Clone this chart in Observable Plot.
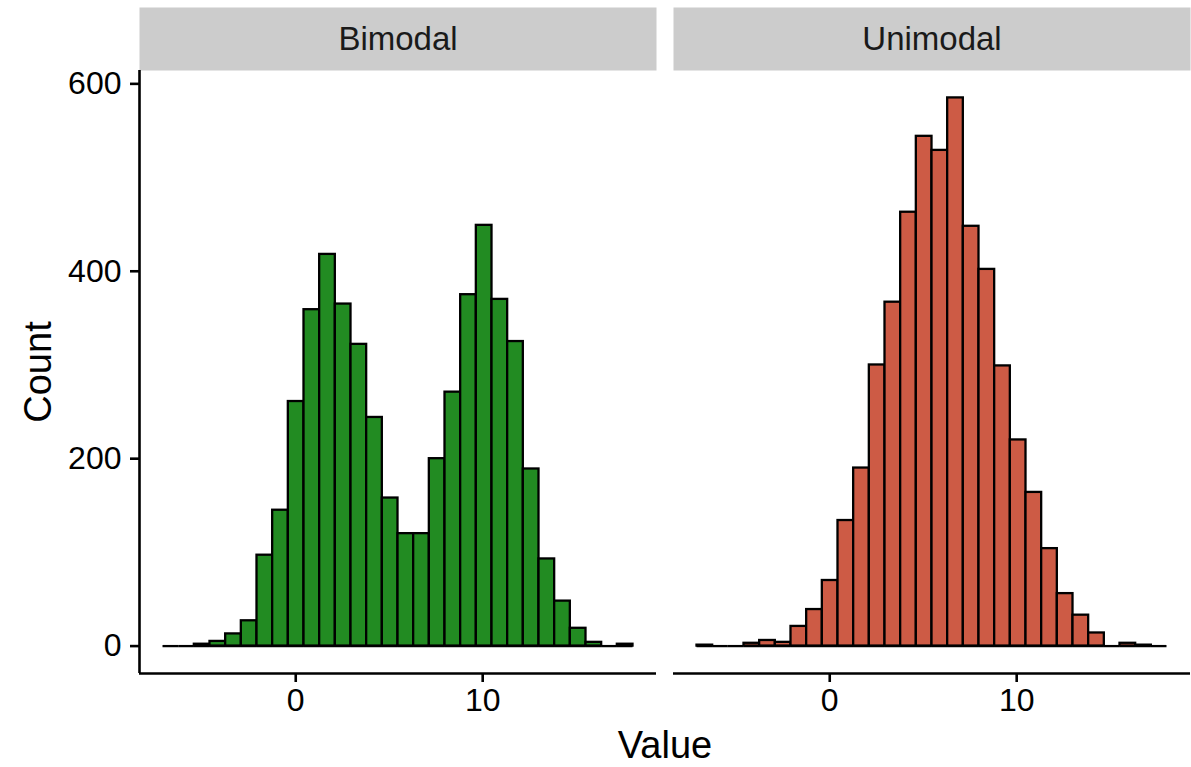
<!DOCTYPE html>
<html>
<head>
<meta charset="utf-8">
<script src="https://cdn.jsdelivr.net/npm/d3@7"></script>
<script src="https://cdn.jsdelivr.net/npm/@observablehq/plot@0.6"></script>
<style>
  html, body { margin: 0; padding: 0; background: #ffffff; }
  #wrap { position: relative; width: 1191px; height: 767px; font-family: "Liberation Sans", Arial, Helvetica, sans-serif; color: #000; }
  #wrap svg { position: absolute; left: 0; top: 0; }
  .ttl { position: absolute; font-size: 38px; line-height: 1; white-space: nowrap; }
  #ytitle { left: 38px; top: 372px; transform: translate(-50%, -50%) rotate(-90deg); }
  #xtitle { left: 665px; top: 745px; transform: translate(-50%, -50%); }
</style>
</head>
<body>
<div id="wrap">
  <div class="ttl" id="ytitle">Count</div>
  <div class="ttl" id="xtitle">Value</div>
</div>
<script>
// ---- data ----
const panels = ["Bimodal", "Unimodal"];
const panelColors = ["#228B22", "#CD5B45"];
const binEdges = [-7.1, -6.262, -5.424, -4.586, -3.748, -2.91, -2.072, -1.234, -0.396, 0.442,
  1.28, 2.118, 2.956, 3.794, 4.632, 5.47, 6.308, 7.146, 7.984, 8.822,
  9.66, 10.498, 11.336, 12.174, 13.012, 13.85, 14.688, 15.526, 16.364, 17.202, 18.04];
const bimodalCounts = [0, 0, 2, 5, 13, 27, 97, 145, 261, 359,
  418, 365, 322, 244, 158, 120, 120, 200, 271, 375,
  449, 370, 325, 189, 93, 48, 19, 4, 0, 2];
const unimodalCounts = [1, 0, 0, 3, 6, 4, 21, 39, 70, 134,
  190, 300, 367, 463, 544, 529, 585, 448, 402, 299,
  220, 164, 104, 56, 33, 14, 0, 3, 1, 0];
const xTicks = [0, 10];
const yTicks = [0, 200, 400, 600];
const xLabel = "Value";
const yLabel = "Count";

// ---- build table ----
const countsByPanel = {Bimodal: bimodalCounts, Unimodal: unimodalCounts};
const table = [];
for (const p of panels) {
  countsByPanel[p].forEach((c, i) => {
    table.push({panel: p, x1: binEdges[i], x2: binEdges[i + 1], count: c});
  });
}

// ggplot-like 5% expansion
const xMin = binEdges[0], xMax = binEdges[binEdges.length - 1];
const xPad = 0.05 * (xMax - xMin);
const xDom = [xMin - xPad, xMax + xPad];
const yMax = d3.max(table, d => d.count);
const yDom = [-0.05 * yMax, yMax * 1.05];

const W = 1191, H = 767;
const mTop = 70, mBottom = 94, mLeft = 139, mRight = 0;
const panelH = H - mTop - mBottom;

const chart = Plot.plot({
  width: W,
  height: H,
  marginTop: mTop,
  marginBottom: mBottom,
  marginLeft: mLeft,
  marginRight: mRight,
  style: {fontFamily: "'Liberation Sans', Arial, Helvetica, sans-serif", fontSize: "32px", color: "#000", background: "transparent", overflow: "visible"},
  fx: {domain: panels, paddingInner: 0.031, paddingOuter: 0, axis: null, label: null},
  x: {domain: xDom},
  y: {domain: yDom},
  color: {domain: panels, range: panelColors},
  marks: [
    // facet strips
    Plot.frame({fill: "#cccccc", stroke: null, insetTop: -63, insetBottom: panelH}),
    Plot.text(panels, {fx: d => d, text: d => d, frameAnchor: "top", dy: -31.5, lineAnchor: "middle", fontSize: 33, fill: "#1a1a1a"}),
    // bars
    Plot.rectY(table, {x1: "x1", x2: "x2", y1: 0, y2: "count", fx: "panel", fill: "panel", stroke: "#000", strokeWidth: 2.3, inset: 0}),
    // baseline of every bin (zero-count bins too)
    Plot.ruleY(table, {x1: "x1", x2: "x2", y: 0, fx: "panel", stroke: "#000", strokeWidth: 2.3}),
    // axis lines
    Plot.ruleY([yDom[0]], {stroke: "#000", strokeWidth: 2.6}),
    Plot.ruleX([{panel: panels[0], v: xDom[0]}], {x: "v", fx: "panel", stroke: "#000", strokeWidth: 2.6}),
    // axes
    Plot.axisY({ticks: yTicks, tickSize: 9, tickPadding: 9, strokeWidth: 2.6, label: null, tickFormat: d => String(d)}),
    Plot.axisX({ticks: xTicks, tickSize: 9, tickPadding: 6, strokeWidth: 2.6, label: null, tickFormat: d => String(d)})
  ]
});

document.getElementById("wrap").prepend(chart);
document.getElementById("xtitle").textContent = xLabel;
document.getElementById("ytitle").textContent = yLabel;
</script>
</body>
</html>
